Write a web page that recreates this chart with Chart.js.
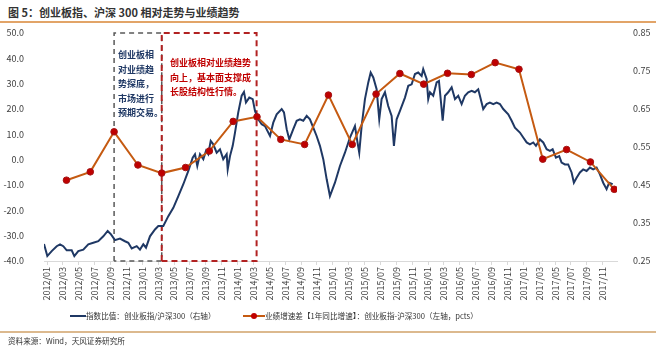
<!DOCTYPE html>
<html>
<head>
<meta charset="utf-8">
<script src="https://cdn.jsdelivr.net/npm/chart.js@4"></script>
<style>
  html,body{margin:0;padding:0;background:#fff;}
  body{width:660px;height:351px;overflow:hidden;position:relative;font-family:"Noto Sans CJK SC","Noto Sans",sans-serif;}
  .abs{position:absolute;white-space:nowrap;}
  .note{font-size:9px;font-weight:bold;line-height:14.5px;}
  .leg{font-size:7.6px;color:#333;top:310px;}
</style>
</head>
<body>
<div class="abs" style="left:8px;top:4px;font-size:11px;font-weight:bold;color:#333;">图 5：创业板指、沪深 300 相对走势与业绩趋势</div>
<div class="abs" style="left:0;top:21px;width:656px;height:1.5px;background:#e2a468;"></div>
<canvas id="c" width="660" height="351" style="position:absolute;left:0;top:0;"></canvas>
<div class="abs note" style="left:118px;top:48px;color:#1f3864;">创业板相<br>对业绩趋<br>势探底，<br>市场进行<br>预期交易。</div>
<div class="abs note" style="left:170px;top:56px;color:#c00000;">创业板相对业绩趋势<br>向上，基本面支撑成<br>长股结构性行情。</div>
<div class="abs" style="left:70px;top:315px;width:16px;height:2px;background:#1f3864;"></div>
<div class="abs leg" style="left:86px;">指数比值：创业板指/沪深300（右轴）</div>
<div class="abs" style="left:243px;top:315px;width:22px;height:2px;background:#c55a11;"></div>
<div class="abs" style="left:251px;top:313px;width:6px;height:6px;border-radius:50%;background:#c00000;"></div>
<div class="abs leg" style="left:265px;">业绩增速差【1年同比增速】：创业板指-沪深300（左轴，pcts）</div>
<div class="abs" style="left:0;top:331px;width:656px;height:1.5px;background:#dcb98e;"></div>
<div class="abs" style="left:8px;top:335px;font-size:7.6px;color:#333;">资料来源：Wind，天风证券研究所</div>
<script>
// x values are month indices: 0 = 2012/01
const tickMonths = [0,2,4,6,8,10,12,14,16,18,20,22,24,26,28,30,32,34,36,38,40,42,44,46,48,50,52,54,56,58,60,62,64,66,68,70];
const tickLabels = ['2012/01','2012/03','2012/05','2012/07','2012/09','2012/11','2013/01','2013/03','2013/05','2013/07','2013/09','2013/11','2014/01','2014/03','2014/05','2014/07','2014/09','2014/11','2015/01','2015/03','2015/05','2015/07','2015/09','2015/11','2016/01','2016/03','2016/05','2016/07','2016/09','2016/11','2017/01','2017/03','2017/05','2017/07','2017/09','2017/11'];
const leftTicks = [-40,-30,-20,-10,0,10,20,30,40,50];
const rightTicks = [0.25,0.35,0.45,0.55,0.65,0.75,0.85];

// 业绩增速差 (quarterly, left axis, pcts)
const growthMonths = [2.45,5.45,8.45,11.45,14.45,17.45,20.45,23.45,26.45,29.45,32.45,35.45,38.45,41.45,44.45,47.45,50.45,53.45,56.45,59.45,62.45,65.45,68.45,71.45];
const growthDiff = [-8.1,-4.8,11.0,-2.1,-5.3,-3.1,3.4,15.1,16.9,8.0,6.0,25.5,6.0,25.9,34.0,29.8,34.1,33.6,38.3,35.7,0.2,4.0,-0.9,-11.7];

// 指数比值 创业板指/沪深300 (right axis)
const ratioMonths = [-0.38,0.04,0.59,1.22,1.64,2.05,2.48,3.11,3.44,3.94,4.57,5.20,5.83,6.46,7.09,7.64,8.06,8.56,9.19,9.82,10.24,10.67,11.30,11.71,12.13,12.47,12.97,13.60,14.02,14.65,15.28,15.91,16.54,17.17,17.80,18.35,18.64,18.93,19.27,19.69,20.03,20.31,20.62,20.94,21.37,21.79,22.20,22.63,22.76,23.05,23.39,23.68,24.09,24.52,24.81,25.06,25.48,25.91,26.20,26.61,27.04,27.46,28.09,28.50,28.93,29.56,29.85,30.19,30.52,31.02,31.45,31.86,32.28,32.71,33.12,33.54,33.96,34.38,34.80,35.23,35.64,36.27,36.90,37.53,38.16,38.79,39.08,39.33,39.63,40.05,40.47,40.77,41.10,41.52,41.85,42.15,42.57,42.98,43.41,43.70,44.04,44.46,45.09,45.51,45.93,46.35,46.76,47.19,47.39,47.82,48.02,48.24,48.65,49.08,49.37,49.71,49.84,50.13,50.54,50.97,51.39,51.80,52.23,52.64,53.06,53.49,53.90,54.32,54.53,54.95,55.38,55.79,56.21,56.64,57.05,57.47,58.10,58.53,58.94,59.57,59.99,60.42,60.83,61.25,61.59,62.09,62.51,62.94,63.35,63.69,64.11,64.52,64.82,65.24,65.65,66.08,66.37,66.71,67.13,67.54,67.97,68.39,68.80,69.23,69.65,70.06,70.49,70.81,71.25];
const ratioValues = [0.295,0.263,0.276,0.289,0.294,0.289,0.278,0.278,0.263,0.276,0.280,0.294,0.298,0.302,0.315,0.329,0.320,0.305,0.309,0.302,0.298,0.283,0.289,0.280,0.294,0.285,0.315,0.333,0.342,0.342,0.368,0.390,0.421,0.452,0.487,0.522,0.531,0.500,0.531,0.518,0.540,0.531,0.566,0.557,0.535,0.544,0.518,0.531,0.491,0.526,0.553,0.588,0.641,0.685,0.695,0.667,0.680,0.676,0.645,0.623,0.610,0.605,0.579,0.614,0.636,0.650,0.641,0.597,0.570,0.597,0.619,0.623,0.619,0.632,0.623,0.601,0.579,0.553,0.518,0.465,0.421,0.456,0.500,0.535,0.575,0.605,0.566,0.535,0.605,0.676,0.720,0.746,0.733,0.702,0.623,0.676,0.694,0.658,0.632,0.553,0.623,0.645,0.680,0.711,0.715,0.742,0.746,0.737,0.755,0.729,0.676,0.694,0.685,0.720,0.724,0.650,0.619,0.685,0.694,0.707,0.676,0.685,0.663,0.685,0.694,0.698,0.694,0.702,0.685,0.650,0.663,0.667,0.663,0.667,0.663,0.650,0.636,0.619,0.601,0.588,0.575,0.562,0.557,0.562,0.553,0.570,0.562,0.544,0.540,0.544,0.522,0.526,0.509,0.504,0.504,0.483,0.456,0.469,0.483,0.491,0.487,0.496,0.491,0.496,0.478,0.456,0.439,0.456,0.452];

// phase boxes (month bounds, left-axis bounds)
const phase1 = [8.45, 14.45];
const phase2 = [14.45, 26.4];
const boxLow = -40, boxHigh = 50;

function box(b){
  return [{x:b[0],y:boxLow},{x:b[0],y:boxHigh},{x:b[1],y:boxHigh},{x:b[1],y:boxLow},{x:b[0],y:boxLow}];
}

const FONT = '"Noto Sans CJK SC","Noto Sans",sans-serif';
new Chart(document.getElementById('c'), {
  type: 'line',
  data: {
    datasets: [
      {
        label: '业绩增速差【1年同比增速】：创业板指-沪深300（左轴，pcts）',
        data: growthMonths.map((m,i)=>({x:m,y:growthDiff[i]})),
        yAxisID: 'y',
        borderColor: '#c55a11',
        borderWidth: 2,
        pointRadius: 3.3,
        pointBackgroundColor: '#c00000',
        pointBorderColor: '#a31515',
        pointBorderWidth: 1,
        tension: 0,
        order: 0
      },
      {
        label: '指数比值：创业板指/沪深300（右轴）',
        data: ratioMonths.map((m,i)=>({x:m,y:ratioValues[i]})),
        yAxisID: 'y2',
        borderColor: '#1f3864',
        borderWidth: 2,
        pointRadius: 0,
        tension: 0,
        order: 1
      },
      {
        label: 'phase1',
        data: box(phase1),
        yAxisID: 'y',
        borderColor: '#595959',
        borderWidth: 1.5,
        borderDash: [5,4],
        pointRadius: 0,
        clip: false,
        order: 3
      },
      {
        label: 'phase2',
        data: box(phase2),
        yAxisID: 'y',
        borderColor: '#b22222',
        borderWidth: 2,
        borderDash: [6,4],
        pointRadius: 0,
        clip: false,
        order: 2
      }
    ]
  },
  options: {
    responsive: false,
    animation: false,
    devicePixelRatio: 1,
    layout: { padding: { top: 33, bottom: 0, left: 0, right: 0 } },
    plugins: { legend: { display: false }, tooltip: { enabled: false } },
    scales: {
      x: {
        type: 'linear',
        min: -0.38,
        max: 71.8,
        afterBuildTicks: (ax) => { ax.ticks = tickMonths.map(v=>({value:v})); },
        afterFit: (ax) => { ax.height = 90; },
        border: { display: true, color: '#d9d9d9', width: 1 },
        grid: { display: true, drawOnChartArea: false, drawTicks: true, tickLength: 4, color: '#d9d9d9' },
        ticks: {
          autoSkip: false,
          maxRotation: 90,
          minRotation: 90,
          padding: 2,
          color: '#404040',
          font: { family: FONT, size: 9 },
          callback: (v) => { const i = tickMonths.indexOf(v); return i >= 0 ? tickLabels[i] : ''; }
        }
      },
      y: {
        position: 'left',
        min: -40,
        max: 50,
        afterBuildTicks: (ax) => { ax.ticks = leftTicks.map(v=>({value:v})); },
        afterFit: (ax) => { ax.width = 44; },
        border: { display: false },
        grid: { display: false },
        ticks: { padding: 12, color: '#404040', font: { family: FONT, size: 9 }, callback: (v) => Number(v).toFixed(1) }
      },
      y2: {
        position: 'right',
        min: 0.25,
        max: 0.85,
        afterBuildTicks: (ax) => { ax.ticks = rightTicks.map(v=>({value:v})); },
        afterFit: (ax) => { ax.width = 43; },
        border: { display: false },
        grid: { display: false },
        ticks: { padding: 8, color: '#404040', font: { family: FONT, size: 9 }, callback: (v) => Number(v).toFixed(2) }
      }
    }
  }
});
</script>
</body>
</html>
